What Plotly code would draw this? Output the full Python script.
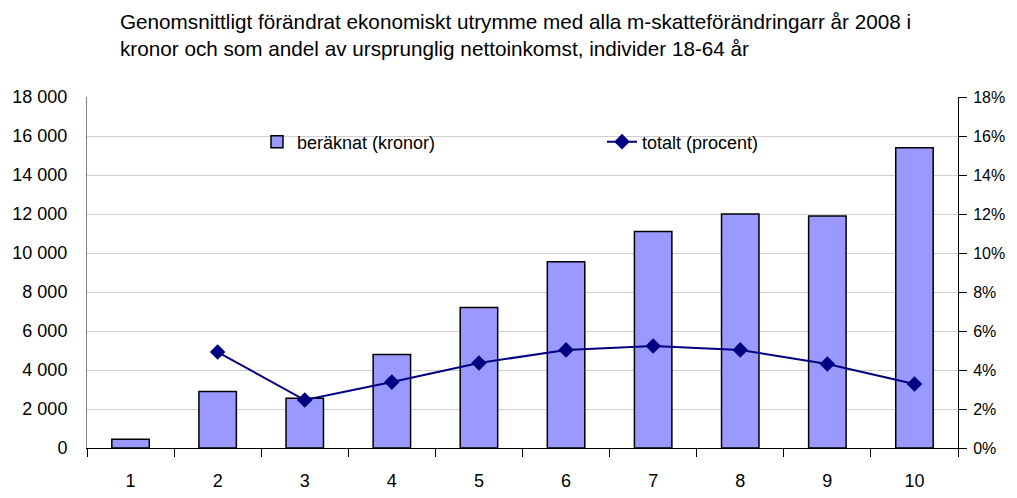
import plotly.graph_objects as go

categories = ["1", "2", "3", "4", "5", "6", "7", "8", "9", "10"]
kronor = [450, 2900, 2550, 4800, 7200, 9550, 11100, 12000, 11900, 15400]
procent = [None, 4.92, 2.46, 3.38, 4.36, 5.03, 5.23, 5.03, 4.31, 3.28]
left_ticks = [0, 2000, 4000, 6000, 8000, 10000, 12000, 14000, 16000, 18000]
left_labels = ["0", "2 000", "4 000", "6 000", "8 000", "10 000", "12 000", "14 000", "16 000", "18 000"]
right_ticks = [0, 2, 4, 6, 8, 10, 12, 14, 16, 18]
right_labels = [f"{v}%" for v in right_ticks]
title_text = ("Genomsnittligt förändrat ekonomiskt utrymme med alla m-skatteförändringarr år 2008 i<br>"
              "kronor och som andel av ursprunglig nettoinkomst, individer 18-64 år")

FONT = "Liberation Sans, Arial, sans-serif"

# page has an 8px body margin; figure sized to fit the 1017x498 window
W, H = 1001, 482
L, R, T, B = 79, 51, 89, 42
PW, PH = W - L - R, H - T - B

fig = go.Figure()
fig.add_trace(go.Bar(
    x=categories, y=kronor, name="beräknat (kronor)",
    marker=dict(color="#9999FF", line=dict(color="black", width=1.5)),
    yaxis="y",
))
fig.add_trace(go.Scatter(
    x=categories, y=procent, name="totalt (procent)", mode="lines+markers",
    line=dict(color="#000080", width=2),
    marker=dict(symbol="diamond", size=12, color="#000080"),
    yaxis="y2", connectgaps=False,
))

fig.add_annotation(
    text=title_text, xref="paper", yref="paper", x=(110 - L) / PW, y=(H - B - 27) / PH,
    xanchor="left", yanchor="middle", align="left", showarrow=False,
    font=dict(family=FONT, size=20.7, color="black"),
)

# white band behind legend that interrupts the gridline (as in the reference)
fig.add_shape(
    type="rect", xref="paper", yref="y", x0=(152 - L) / PW, x1=(822 - L) / PW,
    y0=15400, y1=16600, fillcolor="white", line=dict(width=0), layer="between",
)

fig.update_layout(
    width=W, height=H,
    margin=dict(l=L, r=R, t=T, b=B),
    paper_bgcolor="white", plot_bgcolor="white",
    font=dict(family=FONT, size=18, color="black"),
    bargap=0.57,
    showlegend=True,
    legend=dict(
        orientation="h", xref="paper", x=(249 - L) / PW, xanchor="left",
        y=0.872, yanchor="middle",
        bgcolor="rgba(0,0,0,0)", borderwidth=0,
        entrywidth=300, entrywidthmode="pixels",
        font=dict(family=FONT, size=18, color="black"),
        traceorder="normal",
    ),
    xaxis=dict(
        type="category", showgrid=False, showline=True, linecolor="black", linewidth=1,
        ticks="outside", tickson="boundaries", ticklen=8, tickcolor="black",
        ticklabelstandoff=16, range=[-0.5, 9.5], automargin=False,
    ),
    yaxis=dict(
        range=[0, 18000], tickvals=left_ticks, ticktext=left_labels,
        showgrid=True, gridcolor="#D0D0D0", gridwidth=1,
        showline=True, linecolor="#808080", linewidth=1,
        ticks="", ticklabelstandoff=15, zeroline=False, automargin=False,
    ),
    yaxis2=dict(
        range=[0, 18], tickvals=right_ticks, ticktext=right_labels,
        overlaying="y", side="right", showgrid=False,
        showline=True, linecolor="black", linewidth=1,
        ticks="outside", ticklen=8, tickcolor="black", ticklabelstandoff=3,
        tickfont=dict(family=FONT, size=16, color="black"),
        zeroline=False, automargin=False,
    ),
)

fig.write_html("out.html")
